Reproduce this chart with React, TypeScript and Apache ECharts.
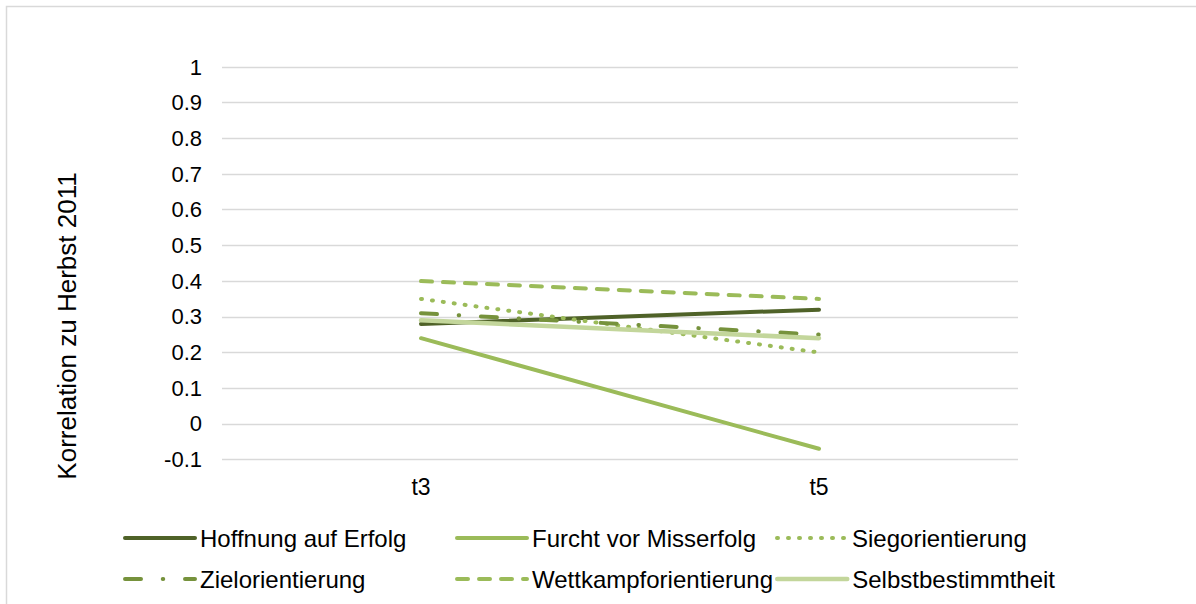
import React, { useEffect, useRef } from "react";
import * as echarts from "echarts";

// Survey waves on the x axis
const categories = ["t3", "t5"];

// Correlation of each motive scale with the autumn 2011 measurement
const hoffnung = [0.28, 0.32];
const furcht = [0.24, -0.07];
const sieg = [0.35, 0.2];
const ziel = [0.31, 0.25];
const wettkampf = [0.4, 0.35];
const selbst = [0.29, 0.24];

const seriesNames = [
  "Hoffnung auf Erfolg",
  "Furcht vor Misserfolg",
  "Siegorientierung",
  "Zielorientierung",
  "Wettkampforientierung",
  "Selbstbestimmtheit",
];

const yTitle = "Korrelation zu Herbst 2011";

const FONT = "'Liberation Sans', Arial, sans-serif";

export default function App() {
  const ref = useRef<HTMLDivElement>(null);

  useEffect(() => {
    if (!ref.current) return;
    const chart = echarts.init(ref.current, undefined, { renderer: "svg" });

    const styles: [string, number, any][] = [
      ["#4F6228", 4, "solid"],
      ["#9BBB59", 4, "solid"],
      ["#9BBB59", 4, [1, 10]],
      ["#76923C", 4, [16, 21.75, 0.5, 21.75]],
      ["#9BBB59", 4, [11, 11]],
      ["#C3D69B", 4.5, "solid"],
    ];
    const values = [hoffnung, furcht, sieg, ziel, wettkampf, selbst];

    const legendPos = [
      [123, 526],
      [455, 526],
      [775, 526],
      [123, 567],
      [455, 567],
      [775, 567],
    ];

    const legends = seriesNames.map((n, i) => ({
      data: [n],
      left: legendPos[i][0],
      top: legendPos[i][1],
      padding: 0,
      itemWidth: 70,
      itemHeight: 14,
      itemStyle: { opacity: 0 },
      lineStyle: { width: styles[i][1], cap: "round" },
      textStyle: { fontSize: 24, color: "#000", fontFamily: FONT },
      selectedMode: false,
    }));

    chart.setOption({
      animation: false,
      backgroundColor: "#fff",
      textStyle: { fontFamily: FONT },
      grid: { left: 222, right: 178, top: 67, bottom: 144.5 },
      legend: legends,
      graphic: [
        {
          type: "rect",
          shape: { x: 6.5, y: 6.5, width: 1300, height: 700 },
          style: { fill: "none", stroke: "#D9D9D9", lineWidth: 1.5 },
          silent: true,
        },
        {
          type: "text",
          x: 67,
          y: 326,
          rotation: Math.PI / 2,
          style: {
            text: yTitle,
            fontSize: 26,
            fontFamily: FONT,
            fill: "#000",
            align: "center",
            verticalAlign: "middle",
          },
          silent: true,
        },
      ],
      xAxis: {
        type: "category",
        data: categories,
        boundaryGap: true,
        axisLine: { show: false },
        axisTick: { show: false },
        axisLabel: { fontSize: 23, color: "#000", margin: 16, fontFamily: FONT },
      },
      yAxis: {
        type: "value",
        min: -0.1,
        max: 1,
        interval: 0.1,
        axisLine: { show: false },
        axisTick: { show: false },
        axisLabel: {
          fontSize: 22,
          color: "#000",
          margin: 20,
          fontFamily: FONT,
          formatter: (v: number) => String(parseFloat(v.toFixed(1))),
        },
        splitLine: { lineStyle: { color: "#D9D9D9", width: 1.3 } },
      },
      series: seriesNames.map((name, i) => ({
        name,
        type: "line",
        data: values[i],
        symbol: "none",
        lineStyle: {
          color: styles[i][0],
          width: styles[i][1],
          type: styles[i][2],
          cap: "round",
          join: "round",
        },
        itemStyle: { color: styles[i][0] },
      })),
    });

    return () => chart.dispose();
  }, []);

  return (
    <div
      ref={ref}
      style={{ position: "fixed", left: 0, top: 0, width: 1196, height: 604 }}
    />
  );
}
